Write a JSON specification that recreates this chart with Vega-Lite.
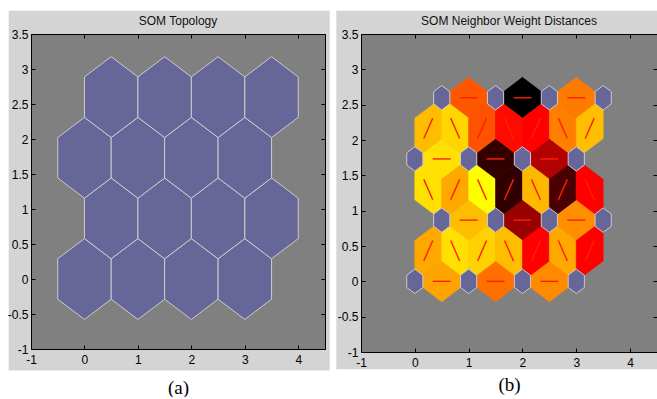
{
  "$schema": "https://vega.github.io/schema/vega-lite/v6.json",
  "background": "white",
  "padding": {"left": 7, "top": 10, "right": 0, "bottom": 0},
  "autosize": {"type": "pad"},
  "spacing": 6,
  "config": {"view": {"stroke": null}},
  "datasets": {
    "neurons": [
      {"x": 0, "y": 0}, {"x": 1, "y": 0}, {"x": 2, "y": 0}, {"x": 3, "y": 0},
      {"x": 0.5, "y": 0.866}, {"x": 1.5, "y": 0.866}, {"x": 2.5, "y": 0.866}, {"x": 3.5, "y": 0.866},
      {"x": 0, "y": 1.732}, {"x": 1, "y": 1.732}, {"x": 2, "y": 1.732}, {"x": 3, "y": 1.732},
      {"x": 0.5, "y": 2.598}, {"x": 1.5, "y": 2.598}, {"x": 2.5, "y": 2.598}, {"x": 3.5, "y": 2.598}
    ],
    "edges": [
      {"x": 1, "y": 2.598, "dir": "h", "level": 0.67},
      {"x": 2, "y": 2.598, "dir": "h", "level": 0},
      {"x": 3, "y": 2.598, "dir": "h", "level": 0.74},
      {"x": 0.5, "y": 1.732, "dir": "h", "level": 0.94},
      {"x": 1.5, "y": 1.732, "dir": "h", "level": 0.1},
      {"x": 2.5, "y": 1.732, "dir": "h", "level": 0.35},
      {"x": 1, "y": 0.866, "dir": "h", "level": 0.87},
      {"x": 2, "y": 0.866, "dir": "h", "level": 0.3},
      {"x": 3, "y": 0.866, "dir": "h", "level": 0.78},
      {"x": 0.5, "y": 0, "dir": "h", "level": 0.82},
      {"x": 1.5, "y": 0, "dir": "h", "level": 0.72},
      {"x": 2.5, "y": 0, "dir": "h", "level": 0.77},
      {"x": 0.25, "y": 2.165, "dir": "up", "level": 0.87},
      {"x": 0.75, "y": 2.165, "dir": "down", "level": 0.92},
      {"x": 1.25, "y": 2.165, "dir": "up", "level": 0.66},
      {"x": 1.75, "y": 2.165, "dir": "down", "level": 0.52},
      {"x": 2.25, "y": 2.165, "dir": "up", "level": 0.5},
      {"x": 2.75, "y": 2.165, "dir": "down", "level": 0.75},
      {"x": 3.25, "y": 2.165, "dir": "up", "level": 0.875},
      {"x": 0.25, "y": 1.299, "dir": "down", "level": 0.94},
      {"x": 0.75, "y": 1.299, "dir": "up", "level": 0.83},
      {"x": 1.25, "y": 1.299, "dir": "down", "level": 1.0},
      {"x": 1.75, "y": 1.299, "dir": "up", "level": 0.095},
      {"x": 2.25, "y": 1.299, "dir": "down", "level": 0.86},
      {"x": 2.75, "y": 1.299, "dir": "up", "level": 0.145},
      {"x": 3.25, "y": 1.299, "dir": "down", "level": 0.5},
      {"x": 0.25, "y": 0.433, "dir": "up", "level": 0.83},
      {"x": 0.75, "y": 0.433, "dir": "down", "level": 0.94},
      {"x": 1.25, "y": 0.433, "dir": "up", "level": 0.91},
      {"x": 1.75, "y": 0.433, "dir": "down", "level": 0.87},
      {"x": 2.25, "y": 0.433, "dir": "up", "level": 0.5},
      {"x": 2.75, "y": 0.433, "dir": "down", "level": 0.83},
      {"x": 3.25, "y": 0.433, "dir": "up", "level": 0.5}
    ]
  },
  "hconcat": [
    {
      "width": 294,
      "height": 315,
      "layer": [
        {
          "data": {"values": [{}]},
          "mark": {"type": "rect", "fill": "#d4d4d4", "clip": false},
          "encoding": {
            "x": {"datum": -1.417, "type": "quantitative", "scale": {"domain": [-1, 4.5], "nice": false, "zero": false},
              "axis": {"orient": "bottom", "values": [-1, 0, 1, 2, 3, 4], "labelExpr": "toString(datum.value)", "title": "(a)", "titleFont": "Liberation Serif", "titleFontSize": 19, "titleFontWeight": "normal", "titleColor": "#000000", "titlePadding": 13, "tickSize": -4, "labelPadding": 9, "labelFlush": false, "labelOverlap": false, "domainColor": "#000000", "tickColor": "#000000", "labelColor": "#000000", "labelFont": "Liberation Sans Narrow, Liberation Sans", "labelFontSize": 12, "grid": false, "zindex": 1}},
            "x2": {"datum": 4.588},
            "y": {"datum": -1.307, "type": "quantitative", "scale": {"domain": [-1, 3.5], "nice": false, "zero": false},
              "axis": {"orient": "left", "values": [-1, -0.5, 0, 0.5, 1, 1.5, 2, 2.5, 3, 3.5], "labelExpr": "toString(datum.value)", "title": null, "tickSize": -4, "labelPadding": 7, "labelFlush": false, "labelOverlap": false, "domainColor": "#000000", "tickColor": "#000000", "labelColor": "#000000", "labelFont": "Liberation Sans Narrow, Liberation Sans", "labelFontSize": 12, "grid": false, "zindex": 1}},
            "y2": {"datum": 3.833}
          }
        },
        {
          "data": {"values": [{}]},
          "mark": {"type": "text", "text": "SOM Topology", "clip": false, "align": "center", "baseline": "middle", "fontSize": 12, "font": "Liberation Sans Narrow, Liberation Sans", "color": "#111111"},
          "encoding": {
            "x": {"datum": 1.75, "type": "quantitative", "scale": {"domain": [-1, 4.5], "nice": false, "zero": false}, "axis": null},
            "y": {"datum": 3.69, "type": "quantitative", "scale": {"domain": [-1, 3.5], "nice": false, "zero": false}, "axis": null}
          }
        },
        {
          "data": {"values": [{}]},
          "mark": {"type": "rect", "fill": "#808080"},
          "encoding": {
            "x": {"datum": -1, "type": "quantitative", "scale": {"domain": [-1, 4.5], "nice": false, "zero": false},
              "axis": {"orient": "top", "values": [-1, 0, 1, 2, 3, 4], "labels": false, "title": null, "tickSize": -4, "domainColor": "#000000", "tickColor": "#000000", "grid": false, "zindex": 1}},
            "x2": {"datum": 4.5},
            "y": {"datum": -1, "type": "quantitative", "scale": {"domain": [-1, 3.5], "nice": false, "zero": false},
              "axis": {"orient": "right", "values": [-1, -0.5, 0, 0.5, 1, 1.5, 2, 2.5, 3, 3.5], "labels": false, "title": null, "tickSize": -4, "domainColor": "#000000", "tickColor": "#000000", "grid": false, "zindex": 1}},
            "y2": {"datum": 3.5}
          }
        },
        {
          "data": {"name": "neurons"},
          "mark": {"type": "point", "shape": "M0,-1L0.6614,-0.5L0.6614,0.5L0,1L-0.6614,0.5L-0.6614,-0.5Z", "size": 6534, "filled": true, "fill": "#666699", "stroke": "#cccccc", "strokeWidth": 1, "opacity": 1},
          "encoding": {
            "x": {"field": "x", "type": "quantitative", "scale": {"domain": [-1, 4.5], "nice": false, "zero": false}, "axis": null},
            "y": {"field": "y", "type": "quantitative", "scale": {"domain": [-1, 3.5], "nice": false, "zero": false}, "axis": null}
          }
        }
      ],
      "resolve": {"axis": {"x": "independent", "y": "independent"}}
    },
    {
      "width": 296,
      "height": 318,
      "layer": [
        {
          "data": {"values": [{}]},
          "mark": {"type": "rect", "fill": "#d4d4d4", "clip": false},
          "encoding": {
            "x": {"datum": -1.459, "type": "quantitative", "scale": {"domain": [-1, 4.5], "nice": false, "zero": false},
              "axis": {"orient": "bottom", "values": [-1, 0, 1, 2, 3, 4], "labelExpr": "toString(datum.value)", "title": "(b)", "titleFont": "Liberation Serif", "titleFontSize": 19, "titleFontWeight": "normal", "titleColor": "#000000", "titlePadding": 7, "tickSize": -4, "labelPadding": 9, "labelFlush": false, "labelOverlap": false, "domainColor": "#000000", "tickColor": "#000000", "labelColor": "#000000", "labelFont": "Liberation Sans Narrow, Liberation Sans", "labelFontSize": 12, "grid": false, "zindex": 1}},
            "x2": {"datum": 4.69},
            "y": {"datum": -1.245, "type": "quantitative", "scale": {"domain": [-1, 3.5], "nice": false, "zero": false},
              "axis": {"orient": "left", "values": [-1, -0.5, 0, 0.5, 1, 1.5, 2, 2.5, 3, 3.5], "labelExpr": "toString(datum.value)", "title": null, "tickSize": -4, "labelPadding": 7, "labelFlush": false, "labelOverlap": false, "domainColor": "#000000", "tickColor": "#000000", "labelColor": "#000000", "labelFont": "Liberation Sans Narrow, Liberation Sans", "labelFontSize": 12, "grid": false, "zindex": 1}},
            "y2": {"datum": 3.83}
          }
        },
        {
          "data": {"values": [{}]},
          "mark": {"type": "text", "text": "SOM Neighbor Weight Distances", "clip": false, "align": "center", "baseline": "middle", "fontSize": 12, "font": "Liberation Sans Narrow, Liberation Sans", "color": "#111111"},
          "encoding": {
            "x": {"datum": 1.75, "type": "quantitative", "scale": {"domain": [-1, 4.5], "nice": false, "zero": false}, "axis": null},
            "y": {"datum": 3.69, "type": "quantitative", "scale": {"domain": [-1, 3.5], "nice": false, "zero": false}, "axis": null}
          }
        },
        {
          "data": {"values": [{}]},
          "mark": {"type": "rect", "fill": "#808080"},
          "encoding": {
            "x": {"datum": -1, "type": "quantitative", "scale": {"domain": [-1, 4.5], "nice": false, "zero": false},
              "axis": {"orient": "top", "values": [-1, 0, 1, 2, 3, 4], "labels": false, "title": null, "tickSize": -4, "domainColor": "#000000", "tickColor": "#000000", "grid": false, "zindex": 1}},
            "x2": {"datum": 4.5},
            "y": {"datum": -1, "type": "quantitative", "scale": {"domain": [-1, 3.5], "nice": false, "zero": false},
              "axis": {"orient": "right", "values": [-1, -0.5, 0, 0.5, 1, 1.5, 2, 2.5, 3, 3.5], "labels": false, "title": null, "tickSize": -4, "domainColor": "#000000", "tickColor": "#000000", "grid": false, "zindex": 1}},
            "y2": {"datum": 3.5}
          }
        },
        {
          "data": {"name": "edges"},
          "mark": {"type": "point", "size": 3738, "filled": true, "strokeWidth": 0.6, "opacity": 1},
          "encoding": {
            "x": {"field": "x", "type": "quantitative", "scale": {"domain": [-1, 4.5], "nice": false, "zero": false}, "axis": null},
            "y": {"field": "y", "type": "quantitative", "scale": {"domain": [-1, 3.5], "nice": false, "zero": false}, "axis": null},
            "shape": {"field": "dir", "type": "nominal", "legend": null, "scale": {"domain": ["h", "up", "down"], "range": ["M-0.8803,0L0,-0.6667L0.8803,0L0,0.6667Z", "M0.4401,-1L-0.4401,-0.3333L-0.4401,1L0.4401,0.3333Z", "M-0.4401,-1L0.4401,-0.3333L0.4401,1L-0.4401,0.3333Z"]}},
            "fill": {"field": "level", "type": "quantitative", "legend": null, "scale": {"domain": [0, 0.5, 1], "range": ["#000000", "#ff0000", "#ffff00"], "interpolate": "rgb"}},
            "stroke": {"field": "level", "type": "quantitative", "legend": null, "scale": {"domain": [0, 0.5, 1], "range": ["#000000", "#ff0000", "#ffff00"], "interpolate": "rgb"}}
          }
        },
        {
          "data": {"name": "edges"},
          "mark": {"type": "point", "size": 3738, "filled": false, "stroke": "#ff2000", "strokeWidth": 1.4, "opacity": 1},
          "encoding": {
            "x": {"field": "x", "type": "quantitative", "scale": {"domain": [-1, 4.5], "nice": false, "zero": false}, "axis": null},
            "y": {"field": "y", "type": "quantitative", "scale": {"domain": [-1, 3.5], "nice": false, "zero": false}, "axis": null},
            "shape": {"field": "dir", "type": "nominal", "legend": null, "scale": {"domain": ["h", "up", "down"], "range": ["M-0.2934,0L0.2934,0", "M-0.1467,0.3333L0.1467,-0.3333", "M-0.1467,-0.3333L0.1467,0.3333"]}}
          }
        },
        {
          "data": {"name": "neurons"},
          "mark": {"type": "point", "shape": "M0,-1L0.6614,-0.5L0.6614,0.5L0,1L-0.6614,0.5L-0.6614,-0.5Z", "size": 598, "filled": true, "fill": "#666699", "stroke": "#cccccc", "strokeWidth": 1, "opacity": 1},
          "encoding": {
            "x": {"field": "x", "type": "quantitative", "scale": {"domain": [-1, 4.5], "nice": false, "zero": false}, "axis": null},
            "y": {"field": "y", "type": "quantitative", "scale": {"domain": [-1, 3.5], "nice": false, "zero": false}, "axis": null}
          }
        }
      ],
      "resolve": {"axis": {"x": "independent", "y": "independent"}, "scale": {"shape": "independent"}}
    }
  ]
}
